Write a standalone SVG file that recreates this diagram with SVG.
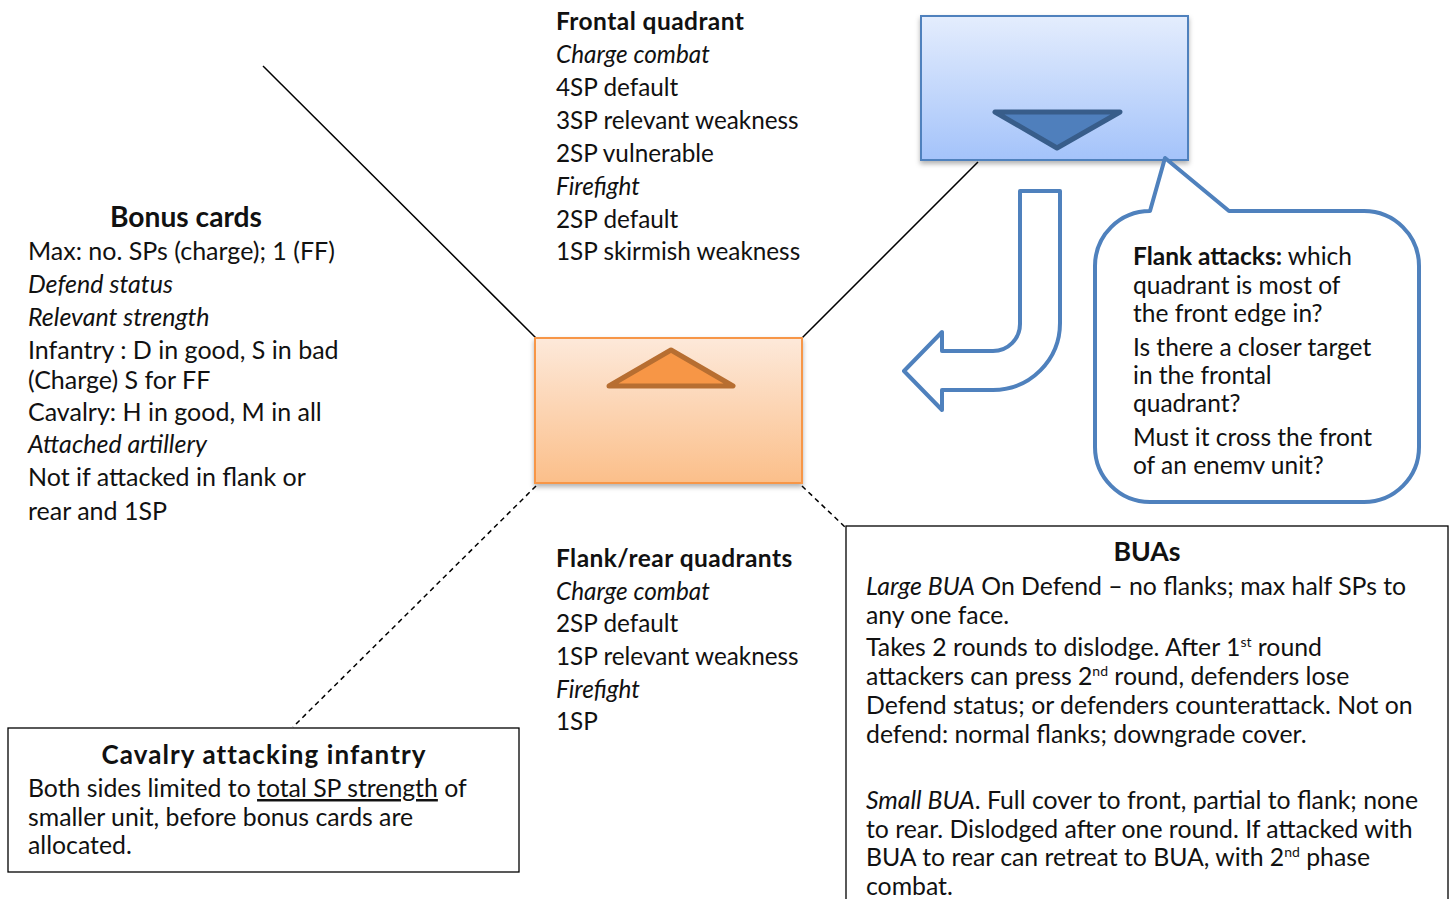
<svg xmlns="http://www.w3.org/2000/svg" width="1455" height="899" viewBox="0 0 1455 899">
<style>
text{font-family:Lato,"Noto Sans",sans-serif;font-size:24.3px;fill:#111}
.h{font-weight:bold}
.i{font-style:italic}
.q{font-size:24.3px}
.bn{font-size:25px}
.b{font-size:24.8px}
.bb{font-size:24.5px}
.hq{font-size:24.5px;letter-spacing:0.45px}
.hbc{font-size:28.2px}
.hbua{font-size:26.7px}
.hcav{font-size:26px;letter-spacing:1.1px}
.sup{font-size:14px}
.ln{stroke:#000;stroke-width:1.5;fill:none}
.dash{stroke-dasharray:5,4}
.box{fill:#fff;stroke:#000;stroke-width:1.3}
</style>
<defs>
<linearGradient id="gO" x1="0" y1="0" x2="0" y2="1"><stop offset="0" stop-color="#fde9da"/><stop offset="1" stop-color="#fbbf8a"/></linearGradient>
<linearGradient id="gB" x1="0" y1="0" x2="0" y2="1"><stop offset="0" stop-color="#e4edfd"/><stop offset="1" stop-color="#a4c3fa"/></linearGradient>
<filter id="sh" x="-10%" y="-10%" width="120%" height="130%"><feDropShadow dx="0" dy="3" stdDeviation="2.5" flood-color="#000" flood-opacity="0.3"/></filter>
<clipPath id="cb"><rect x="1100" y="220" width="310" height="254"/></clipPath>
</defs>

<g id="connectors">
<line class="ln" x1="263" y1="66" x2="536" y2="338"/>
<line class="ln" x1="802" y1="338" x2="978" y2="162"/>
<line class="ln dash" x1="536" y1="486" x2="293" y2="727"/>
<line class="ln dash" x1="802" y1="486" x2="845" y2="527"/>
</g>

<g id="unit-orange">
<rect x="535" y="338" width="267" height="145" fill="url(#gO)" stroke="#f79646" stroke-width="2" filter="url(#sh)"/>
<polygon points="609,386 671,350 733,386" fill="#f79646" stroke="#b76e31" stroke-width="5" stroke-linejoin="round"/>
</g>

<g id="unit-blue">
<rect x="921" y="16" width="267" height="144" fill="url(#gB)" stroke="#4f81bd" stroke-width="2" filter="url(#sh)"/>
<polygon points="995,112 1120,112 1057,148" fill="#4f7fbc" stroke="#385d8a" stroke-width="5" stroke-linejoin="round"/>
</g>

<g id="bent-arrow">
<path d="M1020,191 L1060,191 L1060,323 A67,67 0 0 1 993,390 L942,390 L942,410 L904,371 L942,332 L942,351 L993,351 A27,27 0 0 0 1020,324 Z" fill="#fff" stroke="#4f81bd" stroke-width="4" stroke-linejoin="round"/>
</g>

<g id="flank-bubble">
<path d="M1150,211 L1165,158 L1229,211 L1364,211 A55,55 0 0 1 1419,266 L1419,447 A55,55 0 0 1 1364,502 L1150,502 A55,55 0 0 1 1095,447 L1095,266 A55,55 0 0 1 1150,211 Z" fill="#fff" stroke="#4f81bd" stroke-width="4" stroke-linejoin="round"/>
<g clip-path="url(#cb)">
<text class="bb" x="1133" y="265"><tspan class="h">Flank attacks:</tspan> which</text>
<text class="bb" x="1133" y="294">quadrant is most of</text>
<text class="bb" x="1133" y="322">the front edge in?</text>
<text class="bb" x="1133" y="356">Is there a closer target</text>
<text class="bb" x="1133" y="384">in the frontal</text>
<text class="bb" x="1133" y="412">quadrant?</text>
<text class="bb" x="1133" y="446">Must it cross the front</text>
<text class="bb" x="1133" y="474">of an enemy unit?</text>
</g>
</g>

<g id="frontal-quadrant">
<text class="h hq" x="556" y="30">Frontal quadrant</text>
<text class="q i" x="556" y="63">Charge combat</text>
<text class="q" x="556" y="96">4SP default</text>
<text class="q" x="556" y="129">3SP relevant weakness</text>
<text class="q" x="556" y="162">2SP vulnerable</text>
<text class="q i" x="556" y="195">Firefight</text>
<text class="q" x="556" y="228">2SP default</text>
<text class="q" x="556" y="260">1SP skirmish weakness</text>
</g>

<g id="bonus-cards">
<text class="h hbc" x="186" y="227" text-anchor="middle">Bonus cards</text>
<text class="bn" x="28" y="260">Max: no. SPs (charge); 1 (FF)</text>
<text class="bn i" x="28" y="293">Defend status</text>
<text class="bn i" x="28" y="326">Relevant strength</text>
<text class="bn" x="28" y="359">Infantry : D in good, S in bad</text>
<text class="bn" x="28" y="389">(Charge) S for FF</text>
<text class="bn" x="28" y="421">Cavalry: H in good, M in all</text>
<text class="bn i" x="28" y="453">Attached artillery</text>
<text class="bn" x="28" y="486">Not if attacked in flank or</text>
<text class="bn" x="28" y="520">rear and 1SP</text>
</g>

<g id="flank-rear-quadrants">
<text class="h hq" x="556" y="567">Flank/rear quadrants</text>
<text class="q i" x="556" y="600">Charge combat</text>
<text class="q" x="556" y="632">2SP default</text>
<text class="q" x="556" y="665">1SP relevant weakness</text>
<text class="q i" x="556" y="698">Firefight</text>
<text class="q" x="556" y="730">1SP</text>
</g>

<g id="buas">
<rect class="box" x="846" y="526" width="602" height="380"/>
<text class="h hbua" x="1147" y="561" text-anchor="middle">BUAs</text>
<text class="b" x="866" y="595"><tspan class="i">Large BUA</tspan> On Defend – no flanks; max half SPs to</text>
<text class="b" x="866" y="624">any one face.</text>
<text class="b" x="866" y="656">Takes 2 rounds to dislodge. After 1<tspan class="sup" dy="-9">st</tspan><tspan dy="9"> round</tspan></text>
<text class="b" x="866" y="685">attackers can press 2<tspan class="sup" dy="-9">nd</tspan><tspan dy="9"> round, defenders lose</tspan></text>
<text class="b" x="866" y="714">Defend status; or defenders counterattack. Not on</text>
<text class="b" x="866" y="743">defend: normal flanks; downgrade cover.</text>
<text class="b" x="866" y="809"><tspan class="i">Small BUA</tspan>. Full cover to front, partial to flank; none</text>
<text class="b" x="866" y="838">to rear. Dislodged after one round. If attacked with</text>
<text class="b" x="866" y="866">BUA to rear can retreat to BUA, with 2<tspan class="sup" dy="-9">nd</tspan><tspan dy="9"> phase</tspan></text>
<text class="b" x="866" y="895">combat.</text>
</g>

<g id="cavalry-attacking-infantry">
<rect class="box" x="8" y="728" width="511" height="144"/>
<text class="h hcav" x="264" y="764" text-anchor="middle">Cavalry attacking infantry</text>
<text class="b" x="28" y="797">Both sides limited to <tspan text-decoration="underline">total SP strength</tspan> of</text>
<text class="b" x="28" y="826">smaller unit, before bonus cards are</text>
<text class="b" x="28" y="854">allocated.</text>
</g>
</svg>
